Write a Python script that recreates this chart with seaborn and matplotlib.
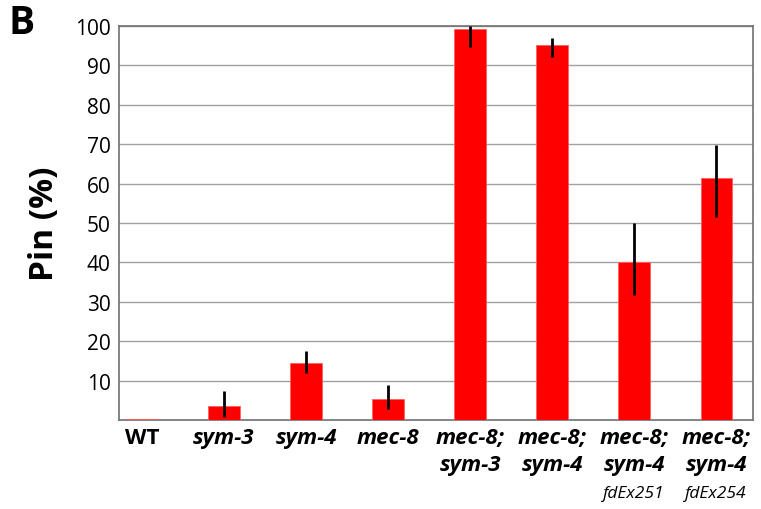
import numpy as np
import pandas as pd
import matplotlib
matplotlib.use("Agg")
import matplotlib.pyplot as plt
import seaborn as sns

categories = ["WT", "sym-3", "sym-4", "mec-8", "mec-8;\nsym-3", "mec-8;\nsym-4", "mec-8;\nsym-4", "mec-8;\nsym-4"]
sublabels = ["", "", "", "", "", "", "fdEx251", "fdEx254"]
values = [0.3, 3.6, 14.5, 5.4, 99.2, 95.1, 40.1, 61.3]
err_low = [0.0, 2.8, 2.6, 2.6, 4.5, 3.0, 8.4, 9.7]
err_high = [0.0, 3.8, 3.1, 3.5, 0.8, 1.8, 9.9, 8.6]
yticks = [10, 20, 30, 40, 50, 60, 70, 80, 90, 100]

sns.set_theme(style="white")
plt.rcParams['font.family'] = ['Open Sans', 'DejaVu Sans']
plt.rcParams['text.color'] = 'black'
plt.rcParams['axes.labelcolor'] = 'black'
plt.rcParams['ytick.color'] = 'black'
plt.rcParams['xtick.color'] = 'black'

fig = plt.figure(figsize=(7.61, 5.10), dpi=100)
ax = fig.add_axes([119/761, 1 - 421/510, (753-119)/761, (421-27)/510])

df = pd.DataFrame({"cat": [f"c{i}" for i in range(len(categories))], "val": values})
sns.barplot(data=df, x="cat", y="val", color="#ff0000", saturation=1, width=0.38,
            edgecolor="#ff6060", linewidth=0.6, ax=ax, zorder=3)
x = np.arange(len(values))
ax.errorbar(x[1:], values[1:], yerr=[err_low[1:], err_high[1:]], fmt="none",
            ecolor="black", elinewidth=2, capsize=0, zorder=4)

ax.set_ylim(0, 100)
ax.set_xlim(-0.28, 7.45)
ax.set_yticks(yticks)
ax.set_yticklabels([str(t) for t in yticks], fontsize=15)
ax.grid(axis="y", color="#a0a0a0", linewidth=1.0, zorder=0)
ax.set_axisbelow(True)
for s in ax.spines.values():
    s.set_color("#707070")
    s.set_linewidth(1.2)
ax.tick_params(axis="y", length=0, pad=6)
ax.tick_params(axis="x", length=0, pad=4)
ax.set_xticks(x)
ax.set_xticklabels([])
ax.set_xlabel("")
ax.set_ylabel("Pin (%)", fontsize=24, fontweight="bold", labelpad=10)

for i, lab in enumerate(categories):
    ax.annotate(lab, xy=(i, 0), xycoords=("data", "axes fraction"),
                xytext=(0, -5), textcoords="offset points",
                ha="center", va="top", fontsize=16, fontweight="bold",
                style="normal" if i == 0 else "italic", linespacing=1.4)
    if sublabels[i]:
        ax.annotate(sublabels[i], xy=(i, 0), xycoords=("data", "axes fraction"),
                    xytext=(0, -47), textcoords="offset points",
                    ha="center", va="top", fontsize=12.5, style="italic")

fig.text(8/761, 1 - 4/510, "B", fontsize=28, fontweight="bold", ha="left", va="top")

fig.savefig("out.png", dpi=100)
